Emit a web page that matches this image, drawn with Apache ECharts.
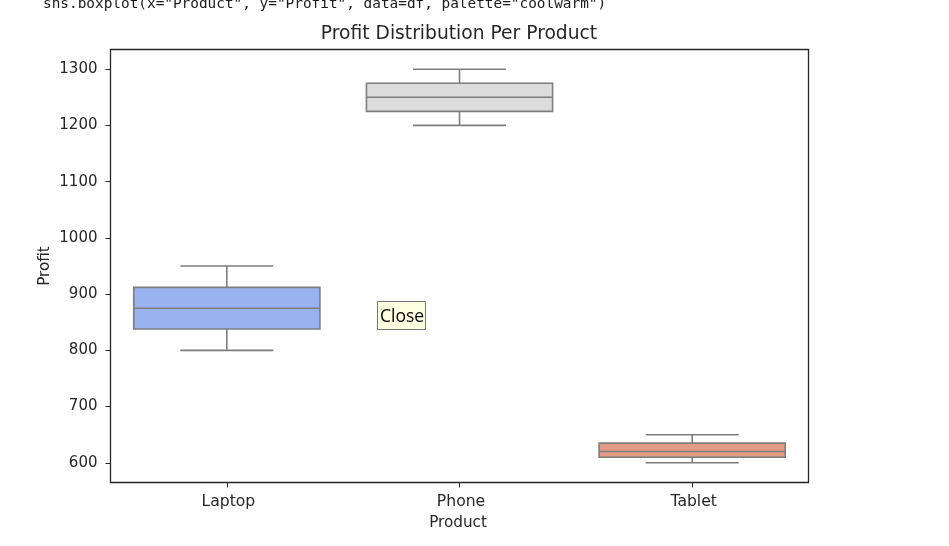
<!DOCTYPE html>
<html>
<head>
<meta charset="utf-8">
<style>html,body{margin:0;padding:0;background:#fff}#c{width:949px;height:546px}</style>
<script src="https://cdn.jsdelivr.net/npm/echarts@6/dist/echarts.min.js"></script>
</head>
<body>
<div id="c"></div>
<script>
const categories = ["Laptop", "Phone", "Tablet"];
const whiskerLow = [800, 1200, 600];
const quartile1 = [838, 1225, 610];
const medians = [875, 1250, 620];
const quartile3 = [912, 1275, 635];
const whiskerHigh = [950, 1300, 650];
const boxColors = ["#9ab3f0", "#dcdcdc", "#e29c86"];
const yTicks = [600, 700, 800, 900, 1000, 1100, 1200, 1300];

const chart = echarts.init(document.getElementById("c"), null, {renderer: "canvas"});
const font = "DejaVu Sans";
const ink = "#262626";
const lineGrey = "#7d7d7d";

chart.setOption({
  animation: false,
  backgroundColor: "#fff",
  title: {
    text: "Profit Distribution Per Product",
    left: 454, top: 20, textAlign: "center",
    textStyle: {fontFamily: font, fontSize: 18.7, fontWeight: "normal", color: ink}
  },
  grid: {left: 110.5, right: 140.5, top: 49.5, bottom: 63.5, containLabel: false, show: false},
  xAxis: {
    type: "category", data: categories, boundaryGap: true,
    name: "Product", nameLocation: "middle", nameGap: 33,
    nameTextStyle: {fontFamily: font, fontSize: 15.2, color: ink, padding: [0, 3, 0, 0]},
    axisLine: {show: false},
    axisTick: {show: true, alignWithLabel: true, length: 5, lineStyle: {color: ink, width: 1}},
    axisLabel: {fontFamily: font, fontSize: 15.6, color: ink, margin: 11, padding: [0, 0, 0, 3]},
    splitLine: {show: false}
  },
  yAxis: {
    type: "value", min: 565, max: 1335,
    name: "Profit", nameLocation: "middle", nameGap: 58, nameRotate: 90, nameMoveOverlap: false,
    nameTextStyle: {fontFamily: font, fontSize: 15.2, color: ink},
    axisLine: {show: false},
    axisTick: {show: true, length: 5, customValues: yTicks, lineStyle: {color: ink, width: 1}},
    axisLabel: {fontFamily: font, fontSize: 15, color: ink, margin: 13, customValues: yTicks,
      formatter: v => String(v)},
    splitLine: {show: false}
  },
  series: [{
    type: "custom",
    encode: {x: 0, y: [1, 2, 3, 4, 5]},
    data: categories.map((c, i) => [i, whiskerLow[i], quartile1[i], medians[i], quartile3[i], whiskerHigh[i]]),
    clip: false,
    renderItem(params, api) {
      const i = api.value(0);
      const band = api.size([1, 0])[0];
      const cx = api.coord([i, 0])[0];
      const y = k => api.coord([i, api.value(k)])[1];
      const boxHalf = band * 0.4, capHalf = band * 0.2;
      const line = (x1, y1, x2, y2) => ({type: "line", shape: {x1, y1, x2, y2},
        style: {stroke: lineGrey, lineWidth: 1.6, fill: null}});
      return {type: "group", children: [
        line(cx, y(1), cx, y(2)),
        line(cx, y(4), cx, y(5)),
        line(cx - capHalf, y(1), cx + capHalf, y(1)),
        line(cx - capHalf, y(5), cx + capHalf, y(5)),
        {type: "rect", shape: {x: cx - boxHalf, y: y(4), width: boxHalf * 2, height: y(2) - y(4)},
          style: {fill: boxColors[i], stroke: lineGrey, lineWidth: 1.6}},
        line(cx - boxHalf, y(3), cx + boxHalf, y(3))
      ]};
    }
  }],
  graphic: [
    {type: "rect", silent: true, z: 5,
      shape: {x: 110.5, y: 49.5, width: 698, height: 433}, style: {fill: null, stroke: ink, lineWidth: 1.3}},
    {type: "text", x: 43, y: -3, silent: true,
      style: {text: 'sns.boxplot(x="Product", y="Profit", data=df, palette="coolwarm")',
        font: '14.4px "DejaVu Sans Mono"', fill: "#1a1a1a", textVerticalAlign: "top"}},
    {type: "rect", silent: true, z: 10,
      shape: {x: 377.5, y: 301.5, width: 48, height: 28}, style: {fill: "#ffffe1", stroke: "#767676", lineWidth: 1}},
    {type: "text", x: 380, y: 308, silent: true, z: 11,
      style: {text: "Close", font: '17.5px "Open Sans"', fill: "#000", textVerticalAlign: "top"}}
  ]
});
</script>
</body>
</html>
